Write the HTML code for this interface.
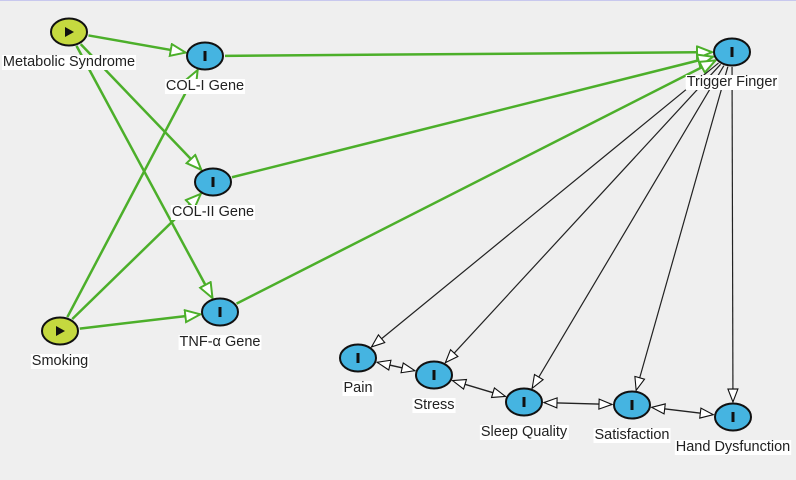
<!DOCTYPE html>
<html><head><meta charset="utf-8"><style>
html,body{margin:0;padding:0;background:#efefef;}
svg{display:block;font-family:"Liberation Sans",sans-serif;}
</style></head><body>
<svg id="s" width="796" height="480" viewBox="0 0 796 480" xmlns="http://www.w3.org/2000/svg">
<rect x="0" y="0" width="796" height="480" fill="#efefef"/>
<line x1="0" y1="0.5" x2="796" y2="0.5" stroke="#c8c8ee" stroke-width="1"/>
<defs>
<marker id="g" markerUnits="userSpaceOnUse" markerWidth="20" markerHeight="16" refX="16" refY="7" orient="auto-start-reverse"><path d="M1,1 L16,7 L1,13 Z" fill="#fff" stroke="#4caf2a" stroke-width="2"/></marker>
<marker id="k" markerUnits="userSpaceOnUse" markerWidth="18" markerHeight="14" refX="14" refY="6" orient="auto-start-reverse"><path d="M1,1 L14,6 L1,11 Z" fill="#fff" stroke="#111" stroke-width="1.1"/></marker>
</defs>
<g id="edges"></g>
<g id="nodes"></g>
</svg>
<script>
var N={
MS:[69,32,"Metabolic Syndrome",1],C1:[205,56,"COL-I Gene",0],C2:[213,182,"COL-II Gene",0],
TN:[220,312,"TNF-α Gene",0],SM:[60,331,"Smoking",1],TF:[732,52,"Trigger Finger",0],
PA:[358,358,"Pain",0],ST:[434,375,"Stress",0],SQ:[524,402,"Sleep Quality",0],
SA:[632,405,"Satisfaction",0],HD:[733,417,"Hand Dysfunction",0]};
var G=[["MS","C1"],["MS","C2"],["MS","TN"],["SM","C1"],["SM","C2"],["SM","TN"],["C1","TF"],["C2","TF"],["TN","TF"]];
var K=[["TF","PA"],["TF","ST"],["TF","SQ"],["TF","SA"],["TF","HD"]];
var B=[["PA","ST"],["ST","SQ"],["SQ","SA"],["SA","HD"]];
var NS="http://www.w3.org/2000/svg",E=document.getElementById("edges"),ND=document.getElementById("nodes");
function cut(a,b){var dx=b[0]-a[0],dy=b[1]-a[1],l=Math.hypot(dx,dy),ux=dx/l,uy=dy/l;
var t=1/Math.sqrt((ux/20)*(ux/20)+(uy/15)*(uy/15));return [a[0]+ux*t,a[1]+uy*t];}
function line(a,b,col,w,ms,me){var A=N[a],Bn=N[b],p=cut(A,Bn),q=cut(Bn,A);
var l=document.createElementNS(NS,"line");l.setAttribute("x1",p[0]);l.setAttribute("y1",p[1]);
l.setAttribute("x2",q[0]);l.setAttribute("y2",q[1]);l.setAttribute("stroke",col);l.setAttribute("stroke-width",w);
if(me)l.setAttribute("marker-end","url(#"+me+")");if(ms)l.setAttribute("marker-start","url(#"+ms+")");E.appendChild(l);}
G.forEach(function(e){line(e[0],e[1],"#4caf2a",2.5,null,"g");});
K.forEach(function(e){line(e[0],e[1],"#222",1.2,null,"k");});
B.forEach(function(e){line(e[0],e[1],"#222",1.4,"k","k");});
for(var k in N){var n=N[k];
var el=document.createElementNS(NS,"ellipse");el.setAttribute("cx",n[0]);el.setAttribute("cy",n[1]);el.setAttribute("rx",18);el.setAttribute("ry",13.5);
el.setAttribute("fill",n[3]?"#c5d93f":"#45b4e1");el.setAttribute("stroke","#111");el.setAttribute("stroke-width",2);ND.appendChild(el);
if(n[3]){var p=document.createElementNS(NS,"path");p.setAttribute("d","M"+(n[0]-4)+","+(n[1]-5)+" L"+(n[0]+5)+","+n[1]+" L"+(n[0]-4)+","+(n[1]+5)+"Z");p.setAttribute("fill","#111");ND.appendChild(p);}
else{var r=document.createElementNS(NS,"rect");r.setAttribute("x",n[0]-1.5);r.setAttribute("y",n[1]-5);r.setAttribute("width",3);r.setAttribute("height",10);r.setAttribute("fill","#111");ND.appendChild(r);}
var t=document.createElementNS(NS,"text");t.setAttribute("x",n[0]);t.setAttribute("y",n[1]+34);t.setAttribute("text-anchor","middle");
t.setAttribute("font-size","14.5");t.setAttribute("fill","#222");t.textContent=n[2];ND.appendChild(t);
var bb=t.getBBox();var bg=document.createElementNS(NS,"rect");bg.setAttribute("x",bb.x-1);bg.setAttribute("y",bb.y+1);
bg.setAttribute("width",bb.width+2);bg.setAttribute("height",bb.height-1);bg.setAttribute("fill","#fff");ND.insertBefore(bg,t);}
</script>
</body></html>
